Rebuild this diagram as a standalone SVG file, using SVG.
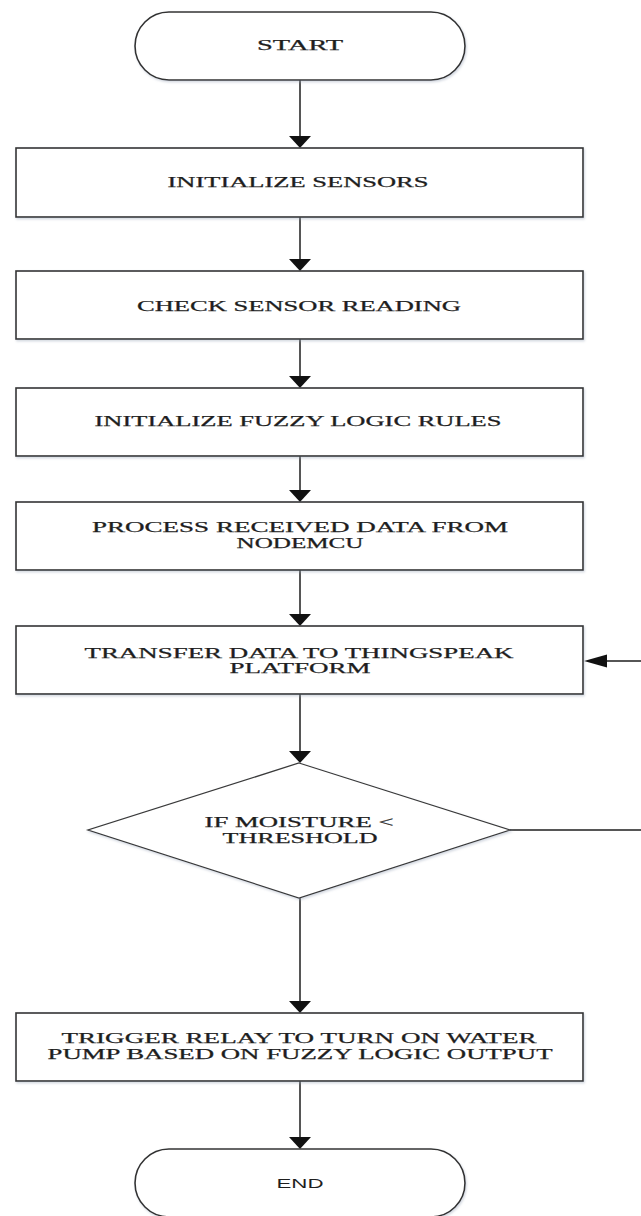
<svg xmlns="http://www.w3.org/2000/svg" width="641" height="1216" viewBox="0 0 641 1216">
  <style>
    .shape { fill: #ffffff; stroke: #333333; stroke-width: 1.6; filter: url(#shadow); }
    .dia { fill: #ffffff; stroke: #3a3a3a; stroke-width: 1.3; filter: url(#shadow); }
    .lbl { font-family: "Liberation Serif", "Times New Roman", serif; font-size: 14.5px; fill: #1e1e1e; stroke: #1e1e1e; stroke-width: 0.25; text-anchor: middle; }
    .lbl-sans { font-family: "Liberation Sans", Arial, sans-serif; font-size: 12.5px; fill: #1e1e1e; text-anchor: middle; }
    .conn { stroke: #1e1e1e; stroke-width: 1.5; fill: none; }
    .head { fill: #111111; }
  </style>
  <defs>
    <filter id="shadow" x="-5%" y="-10%" width="110%" height="125%">
      <feDropShadow dx="1" dy="1.5" stdDeviation="1.2" flood-color="#9aa4b8" flood-opacity="0.45"/>
    </filter>
  </defs>
  <rect width="641" height="1216" fill="#ffffff"/>

  <g id="connectors">
    <line class="conn" x1="300" y1="80" x2="300" y2="138"/>
    <polygon class="head" points="289,136 311,136 300,148"/>
    <line class="conn" x1="300" y1="217" x2="300" y2="261"/>
    <polygon class="head" points="289,259 311,259 300,271"/>
    <line class="conn" x1="300" y1="339" x2="300" y2="378"/>
    <polygon class="head" points="289,376 311,376 300,388"/>
    <line class="conn" x1="300" y1="456" x2="300" y2="492"/>
    <polygon class="head" points="289,490 311,490 300,502"/>
    <line class="conn" x1="300" y1="570" x2="300" y2="616"/>
    <polygon class="head" points="289,614 311,614 300,626"/>
    <line class="conn" x1="300" y1="694" x2="300" y2="753"/>
    <polygon class="head" points="289,751 311,751 300,763"/>
    <line class="conn" x1="300" y1="898" x2="300" y2="1003"/>
    <polygon class="head" points="289,1001 311,1001 300,1013"/>
    <line class="conn" x1="300" y1="1081" x2="300" y2="1139"/>
    <polygon class="head" points="289,1137 311,1137 300,1149"/>
    <line class="conn" x1="510" y1="830" x2="641" y2="830"/>
    <line class="conn" x1="641" y1="661" x2="600" y2="661"/>
    <polygon class="head" points="607,654.5 607,667.5 584,661"/>
  </g>

  <g id="start">
    <rect class="shape" x="135" y="12" width="330" height="68" rx="34" ry="34"/>
    <text class="lbl" x="300" y="50" textLength="86" lengthAdjust="spacingAndGlyphs">START</text>
  </g>

  <g id="init-sensors">
    <rect class="shape" x="16" y="148" width="567" height="69"/>
    <text class="lbl" x="298" y="187" textLength="261" lengthAdjust="spacingAndGlyphs">INITIALIZE SENSORS</text>
  </g>

  <g id="check-reading">
    <rect class="shape" x="16" y="271" width="567" height="68"/>
    <text class="lbl" x="299" y="311" textLength="324" lengthAdjust="spacingAndGlyphs">CHECK SENSOR READING</text>
  </g>

  <g id="init-fuzzy">
    <rect class="shape" x="16" y="388" width="567" height="68"/>
    <text class="lbl" x="298" y="426" textLength="407" lengthAdjust="spacingAndGlyphs">INITIALIZE FUZZY LOGIC RULES</text>
  </g>

  <g id="process-data">
    <rect class="shape" x="16" y="502" width="567" height="68"/>
    <text class="lbl" x="300" y="532" textLength="416" lengthAdjust="spacingAndGlyphs">PROCESS RECEIVED DATA FROM</text>
    <text class="lbl" x="300" y="548" textLength="127" lengthAdjust="spacingAndGlyphs">NODEMCU</text>
  </g>

  <g id="transfer-data">
    <rect class="shape" x="16" y="626" width="567" height="68"/>
    <text class="lbl" x="299" y="658" textLength="429" lengthAdjust="spacingAndGlyphs">TRANSFER DATA TO THINGSPEAK</text>
    <text class="lbl" x="300" y="673" textLength="141" lengthAdjust="spacingAndGlyphs">PLATFORM</text>
  </g>

  <g id="moisture-check">
    <polygon class="dia" points="299,763 510,830 299,898 88,830"/>
    <text class="lbl" x="299" y="827" textLength="189" lengthAdjust="spacingAndGlyphs">IF MOISTURE &lt;</text>
    <text class="lbl" x="300" y="843" textLength="155" lengthAdjust="spacingAndGlyphs">THRESHOLD</text>
  </g>

  <g id="trigger-relay">
    <rect class="shape" x="16" y="1013" width="567" height="68"/>
    <text class="lbl" x="299" y="1043" textLength="475" lengthAdjust="spacingAndGlyphs">TRIGGER RELAY TO TURN ON WATER</text>
    <text class="lbl" x="300" y="1059" textLength="505" lengthAdjust="spacingAndGlyphs">PUMP BASED ON FUZZY LOGIC OUTPUT</text>
  </g>

  <g id="end">
    <rect class="shape" x="135" y="1149" width="330" height="68" rx="34" ry="34"/>
    <text class="lbl-sans" x="300" y="1188" textLength="47" lengthAdjust="spacingAndGlyphs">END</text>
  </g>
</svg>
